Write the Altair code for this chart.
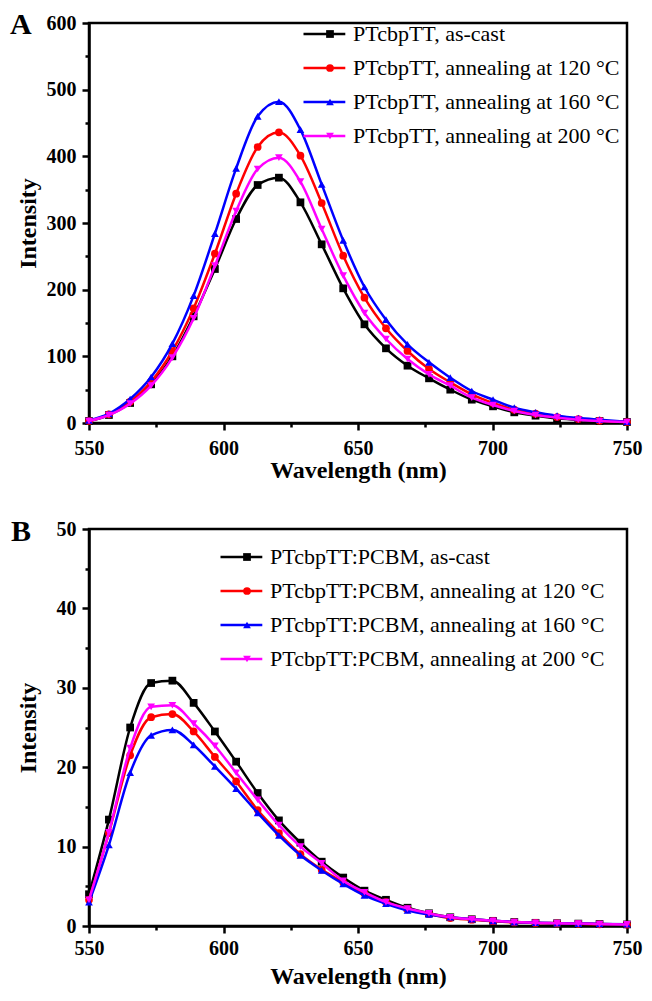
import altair as alt
import pandas as pd

FONT = "Liberation Serif"

wavelength = [550, 557.4, 565.3, 573.1, 581.0, 588.9, 596.8, 604.7, 612.7, 620.6,
              628.6, 636.5, 644.5, 652.4, 660.4, 668.4, 676.4, 684.3, 692.3, 700.2,
              708.1, 716.0, 724.0, 731.9, 739.8, 750.0]

series_a = ["PTcbpTT, as-cast", "PTcbpTT, annealing at 120 °C",
            "PTcbpTT, annealing at 160 °C", "PTcbpTT, annealing at 200 °C"]
a_ascast = [3, 12, 30, 58, 100, 160, 231, 306, 357, 368, 331, 268, 202, 148, 112, 86,
            67, 50, 35, 25, 16, 11, 7, 4.5, 3, 1.5]
a_120 = [3, 13, 32, 62, 108, 172, 254, 344, 414, 436, 401, 330, 251, 188, 142, 108,
         81, 61, 43, 30, 20, 14, 9, 6, 3.5, 1.5]
a_160 = [4, 14, 36, 69, 119, 191, 284, 382, 460, 482, 440, 358, 274, 204, 155, 118,
         91, 68, 48, 35, 23, 16, 11, 7.5, 5, 2]
a_200 = [3, 12, 29, 56, 98, 157, 236, 318, 381, 398, 362, 291, 221, 165, 126, 96,
         73, 56, 38, 27, 18, 12, 8, 5, 3, 1.5]

series_b = ["PTcbpTT:PCBM, as-cast", "PTcbpTT:PCBM, annealing at 120 °C",
            "PTcbpTT:PCBM, annealing at 160 °C", "PTcbpTT:PCBM, annealing at 200 °C"]
b_ascast = [4.0, 13.4, 25.0, 30.6, 30.9, 28.1, 24.5, 20.7, 16.75, 13.3, 10.5, 8.1, 6.1,
            4.45, 3.3, 2.3, 1.6, 1.1, 0.85, 0.65, 0.5, 0.4, 0.35, 0.3, 0.25, 0.2]
b_120 = [3.3, 11.7, 21.5, 26.3, 26.7, 24.5, 21.3, 18.2, 14.6, 11.7, 9.05, 7.1, 5.5,
         4.1, 3.0, 2.1, 1.5, 1.0, 0.8, 0.6, 0.45, 0.38, 0.32, 0.27, 0.22, 0.18]
b_160 = [3.0, 10.2, 19.3, 24.0, 24.7, 22.8, 20.1, 17.3, 14.25, 11.4, 8.9, 7.0, 5.3,
         3.85, 2.8, 1.95, 1.45, 1.1, 0.85, 0.65, 0.5, 0.42, 0.36, 0.3, 0.26, 0.22]
b_200 = [3.3, 11.8, 22.4, 27.6, 27.8, 25.5, 22.7, 19.3, 15.9, 12.7, 10.0, 7.9, 5.7,
         4.25, 3.0, 2.2, 1.6, 1.1, 0.85, 0.65, 0.5, 0.4, 0.35, 0.3, 0.25, 0.2]

colors = ["#000000", "#FF0000", "#0000FF", "#FF00FF"]
shapes = ["square", "circle", "triangle-up", "triangle-down"]
panel_letters = ["A", "B"]


def make_panel(names, values, letter, ymax, ystep, ylab_step, width, height,
               legend_x, legend_y, xlab_pad, xtitle_pad, letter_x, letter_y):
    names2 = [n + " " for n in names]
    rows = []
    for name, name2, vals in zip(names, names2, values):
        for w, v in zip(wavelength, vals):
            rows.append({"wl": w, "val": v, "series": name, "series2": name2})
    df = pd.DataFrame(rows)

    x_enc = alt.X(
        "wl:Q",
        scale=alt.Scale(domain=[550, 750], nice=False, zero=False),
        axis=alt.Axis(
            values=list(range(550, 751, 25)),
            labelExpr="datum.value % 50 === 0 ? datum.label : ''",
            tickSize={"condition": {"test": "datum.value % 50 === 0", "value": 7}, "value": 4},
            labelPadding=xlab_pad, labelFlush=False, labelOverlap=False,
            title="Wavelength (nm)", titlePadding=xtitle_pad,
        ),
    )
    yvals = [round(i * ystep, 6) for i in range(int(round(ymax / ystep)) + 1)]
    y_enc = alt.Y(
        "val:Q",
        scale=alt.Scale(domain=[0, ymax], nice=False, zero=True),
        axis=alt.Axis(
            values=yvals,
            labelExpr=f"datum.value % {ylab_step} === 0 ? datum.label : ''",
            tickSize={"condition": {"test": f"datum.value % {ylab_step} === 0", "value": 7}, "value": 4},
            labelPadding=6, labelOverlap=False,
            title="Intensity", titlePadding=4, minExtent=45, maxExtent=45,
        ),
    )
    stroke_enc = alt.Stroke(
        "series:N", scale=alt.Scale(domain=names, range=colors),
        legend=alt.Legend(orient="none", legendX=legend_x, legendY=legend_y, title=None,
                          symbolType="M-1,0L3.4,0", symbolSize=361, symbolStrokeWidth=2.5,
                          labelFont=FONT, labelFontSize=22, labelOffset=29, rowPadding=12,
                          labelLimit=600, padding=0, labelColor="black"),
    )
    pt_legend = alt.Legend(orient="none", legendX=legend_x + 17, legendY=legend_y, title=None,
                           symbolSize=60, symbolStrokeWidth=0, labelExpr="''",
                           labelFont=FONT, labelFontSize=22, rowPadding=12,
                           labelLimit=5, padding=0)
    shape_enc = alt.Shape("series2:N", scale=alt.Scale(domain=names2, range=shapes), legend=pt_legend)
    fill_enc = alt.Fill("series2:N", scale=alt.Scale(domain=names2, range=colors), legend=pt_legend)

    layers = []
    for name in names:
        base = alt.Chart(df).transform_filter(alt.datum.series == name)
        layers.append(base.mark_line(interpolate="monotone", strokeWidth=2.5).encode(
            x=x_enc, y=y_enc, stroke=stroke_enc))
        layers.append(base.mark_point(filled=True, size=60, opacity=1).encode(
            x=x_enc, y=y_enc, shape=shape_enc, fill=fill_enc))

    lab = alt.Chart(pd.DataFrame({"t": [letter]})).mark_text(
        font=FONT, fontWeight="bold", fontSize=30, align="left", baseline="middle", color="black"
    ).encode(x=alt.value(letter_x), y=alt.value(letter_y), text="t:N")
    layers.append(lab)
    return alt.layer(*layers).properties(width=width, height=height)


pa = make_panel(series_a, [a_ascast, a_120, a_160, a_200], panel_letters[0], 600, 50, 100,
                538, 400, 213, 0, 8, 0, -79, 2)
pb = make_panel(series_b, [b_ascast, b_120, b_160, b_200], panel_letters[1], 50, 5, 10,
                538, 397, 130, 17, 5, 6, -78, 2.5)

chart = alt.vconcat(pa, pb, spacing=31).resolve_scale(
    stroke="independent", shape="independent", fill="independent"
).resolve_legend(
    stroke="independent", shape="independent", fill="independent"
).properties(
    padding=0
).configure_view(stroke="black", strokeWidth=2.5).configure_axis(
    grid=False, domainColor="black", domainWidth=2.5, tickColor="black", tickWidth=2.5,
    labelFont=FONT, labelFontWeight="bold", labelFontSize=20, labelColor="black",
    titleFont=FONT, titleFontWeight="bold", titleFontSize=24, titleColor="black",
)

chart.save("out.html", embed_options={"renderer": "svg", "actions": False})
